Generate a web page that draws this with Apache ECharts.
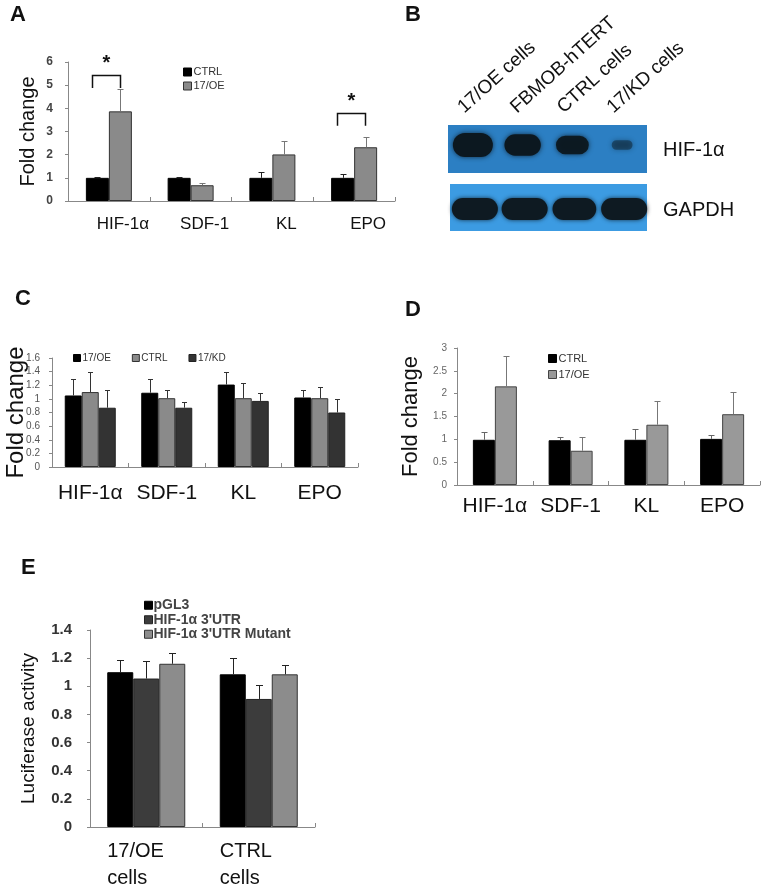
<!DOCTYPE html>
<html>
<head>
<meta charset="utf-8">
<script src="https://cdn.jsdelivr.net/npm/echarts@6/dist/echarts.min.js"></script>
<style>
  html, body { margin: 0; padding: 0; background: #fff; }
  #main { width: 764px; height: 888px; }
</style>
</head>
<body>
<div id="main"></div>
<script>
// ---- A: qPCR, CTRL vs 17/OE
var catsA = ['HIF-1α', 'SDF-1', 'KL', 'EPO'];
var ctrlA = [1, 1, 1, 1];
var ctrlAErr = [1.03, 1.03, 1.25, 1.18];
var oeA = [3.87, 0.68, 2.01, 2.32];
var oeAErr = [4.85, 0.78, 2.58, 2.76];
var sigA = [[0, 5.45, 4.88], [3, 3.8, 3.25]]; // category, bracket top, leg end
var ticksA = [0, 6, 1];

// ---- B: western blot
var laneNames = ['17/OE cells', 'FBMOB-hTERT', 'CTRL cells', '17/KD cells'];
var hifBand = [1.0, 0.85, 0.7, 0.2];
var gapdhBand = [1.0, 1.0, 0.95, 1.0];
var blotRows = ['HIF-1α', 'GAPDH'];

// ---- C: 17/OE, CTRL, 17/KD
var catsC = ['HIF-1α', 'SDF-1', 'KL', 'EPO'];
var oeC = [1.05, 1.09, 1.21, 1.02];
var oeCErr = [1.29, 1.29, 1.39, 1.125];
var ctrlC = [1.10, 1.01, 1.01, 1.01];
var ctrlCErr = [1.39, 1.135, 1.23, 1.18];
var kdC = [0.87, 0.87, 0.97, 0.80];
var kdCErr = [1.135, 0.96, 1.08, 1.00];
var ticksC = [0, 1.6, 0.2];

// ---- D: CTRL vs 17/OE
var catsD = ['HIF-1α', 'SDF-1', 'KL', 'EPO'];
var ctrlD = [0.99, 0.98, 0.99, 1.01];
var ctrlDErr = [1.15, 1.06, 1.23, 1.10];
var oeD = [2.16, 0.75, 1.32, 1.55];
var oeDErr = [2.82, 1.05, 1.85, 2.03];
var ticksD = [0, 3, 0.5];

// ---- E: luciferase
var catsE = ['17/OE\ncells', 'CTRL\ncells'];
var pgl3E = [1.10, 1.085];
var pgl3EErr = [1.19, 1.20];
var utrE = [1.055, 0.91];
var utrEErr = [1.18, 1.01];
var mutE = [1.16, 1.085];
var mutEErr = [1.24, 1.15];
var ticksE = [0, 1.4, 0.2];

var FONT = 'Liberation Sans, Arial, sans-serif';

function barSeries(name, data, g, color, border, width) {
  return {
    name: name, type: 'bar', xAxisIndex: g, yAxisIndex: g, data: data,
    barWidth: width, barGap: '0%', silent: true,
    itemStyle: { color: color, borderColor: border, borderWidth: 1 }
  };
}

// upper whisker only, like the original
function errSeries(means, tops, g, k, n, width, color, cap) {
  return {
    type: 'custom', xAxisIndex: g, yAxisIndex: g, silent: true, z: 3,
    data: means.map(function (m, i) { return [i, m, tops[i]]; }),
    renderItem: function (params, api) {
      var p0 = api.coord([api.value(0), api.value(1)]);
      var p1 = api.coord([api.value(0), api.value(2)]);
      var x = Math.round(p0[0] + (k - (n - 1) / 2) * width) + 0.5;
      var y1 = Math.round(p1[1]) + 0.5;
      return {
        type: 'group', children: [
          { type: 'line', shape: { x1: x, y1: p0[1], x2: x, y2: y1 }, style: { stroke: color, lineWidth: 1 } },
          { type: 'line', shape: { x1: x - cap, y1: y1, x2: x + cap, y2: y1 }, style: { stroke: color, lineWidth: 1 } }
        ]
      };
    }
  };
}

function xAx(g, cats, fs, margin, extra) {
  var ax = {
    type: 'category', gridIndex: g, data: cats,
    axisLine: { lineStyle: { color: '#888', width: 1 } },
    axisTick: { show: true, inside: true, length: 4, lineStyle: { color: '#888' } },
    axisLabel: { fontFamily: FONT, fontSize: fs, color: '#111', margin: margin, interval: 0 },
    splitLine: { show: false }
  };
  if (extra) Object.assign(ax.axisLabel, extra);
  return ax;
}

function yAx(g, t, name, nameFs, nameGap, lblFs, lblColor, lblMargin, bold) {
  return {
    type: 'value', gridIndex: g, min: t[0], max: t[1], interval: t[2],
    name: name, nameLocation: 'middle', nameRotate: 90, nameGap: nameGap,
    nameMoveOverlap: false,
    nameTextStyle: { fontFamily: FONT, fontSize: nameFs, color: '#111' },
    axisLine: { show: true, lineStyle: { color: '#888', width: 1 } },
    axisTick: { show: true, length: 3, lineStyle: { color: '#888' } },
    axisLabel: { fontFamily: FONT, fontSize: lblFs, color: lblColor, margin: lblMargin, fontWeight: bold ? 'bold' : 'normal' },
    splitLine: { show: false }
  };
}

function legendItem(name, color, border) {
  return { name: name, icon: 'rect', itemStyle: { color: color, borderColor: border, borderWidth: 1 } };
}

// ---- panel letters + blot graphics
var graphics = [];
var letters = [['A', 10, 4], ['B', 405, 4], ['C', 15, 288], ['D', 405, 299], ['E', 21, 557]];
letters.forEach(function (l) {
  graphics.push({ type: 'text', x: l[1], y: l[2],
    style: { text: l[0], font: 'bold 22px ' + FONT, fill: '#111', textVerticalAlign: 'top' } });
});
var blotX = 448, blotW = 199, laneW = blotW / 4;
graphics.push({ type: 'rect', shape: { x: blotX, y: 125, width: blotW, height: 48 }, style: { fill: '#2c7fc3' } });
graphics.push({ type: 'rect', shape: { x: blotX + 2, y: 184, width: blotW - 2, height: 47 }, style: { fill: '#3c9be2' } });
hifBand.forEach(function (v, i) {
  graphics.push({ type: 'rect',
    shape: { x: blotX + laneW * (i + 0.5) - (8 + 12 * v), y: 145 - (3 + 9 * v), width: 2 * (8 + 12 * v), height: 2 * (3 + 9 * v), r: 3 + 9 * v },
    style: { fill: 'rgba(12,24,32,' + Math.min(1, 0.25 + v) + ')', shadowBlur: 5, shadowColor: 'rgba(12,24,32,0.8)' } });
});
gapdhBand.forEach(function (v, i) {
  graphics.push({ type: 'rect',
    shape: { x: blotX + 2 + laneW * (i + 0.5) - 23 * v, y: 198, width: 46 * v, height: 22, r: 11 },
    style: { fill: '#0e1a22', shadowBlur: 4, shadowColor: 'rgba(12,24,32,0.8)' } });
});
blotRows.forEach(function (r, i) {
  graphics.push({ type: 'text', x: 663, y: i === 0 ? 150 : 210,
    style: { text: r, font: '20px ' + FONT, fill: '#111', textVerticalAlign: 'middle' } });
});
laneNames.forEach(function (n, i) {
  graphics.push({ type: 'text', x: blotX + 19 + laneW * i + (i === 1 ? 3 : 0), y: 117, rotation: 42 * Math.PI / 180,
    style: { text: n, font: '19px ' + FONT, fill: '#111', textAlign: 'left', textVerticalAlign: 'bottom' } });
});

var option = {
  animation: false,
  backgroundColor: '#fff',
  graphic: graphics,
  grid: [
    { left: 68, top: 62, width: 327, height: 139, outerBoundsMode: 'none' },
    { left: 52, top: 358, width: 306, height: 109, outerBoundsMode: 'none' },
    { left: 457, top: 348, width: 303, height: 137, outerBoundsMode: 'none' },
    { left: 90, top: 630, width: 225, height: 197, outerBoundsMode: 'none' }
  ],
  xAxis: [
    xAx(0, catsA, 17, 15, { padding: [0, 0, 0, 28] }),
    xAx(1, catsC, 21, 16),
    xAx(2, catsD, 21, 11),
    xAx(3, catsE, 20, 11, {
      lineHeight: 27,
      formatter: function (v) { return v.split('\n').map(function (s) { return '{a|' + s + '}'; }).join('\n'); },
      rich: { a: { width: 78, align: 'left', fontFamily: FONT, fontSize: 20, lineHeight: 27, color: '#111' } }
    })
  ],
  yAxis: [
    yAx(0, ticksA, 'Fold change', 20, 30, 12, '#444', 15, true),
    yAx(1, ticksC, 'Fold change', 24, 24, 10, '#555', 12, false),
    yAx(2, ticksD, 'Fold change', 22, 35, 10, '#666', 10, false),
    yAx(3, ticksE, 'Luciferase activity', 19, 52, 15, '#333', 18, true)
  ],
  legend: [
    { orient: 'vertical', left: 183, top: 66, padding: 0, itemWidth: 8, itemHeight: 8, itemGap: 2,
      textStyle: { fontFamily: FONT, fontSize: 11, color: '#333', lineHeight: 12, padding: [0, 0, 0, -3] },
      data: [legendItem('CTRL', '#000', '#000'), legendItem('17/OE', '#8a8a8a', '#333')] },
    { orient: 'horizontal', left: 73, top: 353, padding: 0, itemWidth: 7, itemHeight: 7, itemGap: 21,
      textStyle: { fontFamily: FONT, fontSize: 10, color: '#333', padding: [0, 0, 0, -3] },
      data: [legendItem('17/OE', '#000', '#000'), legendItem('CTRL', '#8a8a8a', '#333'), legendItem('17/KD', '#333', '#222')] },
    { orient: 'vertical', left: 548, top: 352, padding: 0, itemWidth: 8, itemHeight: 8, itemGap: 3,
      textStyle: { fontFamily: FONT, fontSize: 11, color: '#333', lineHeight: 13, padding: [0, 0, 0, -3] },
      data: [legendItem('CTRL', '#000', '#000'), legendItem('17/OE', '#999', '#444')] },
    { orient: 'vertical', left: 144, top: 598, padding: 0, itemWidth: 8, itemHeight: 8, itemGap: 0,
      textStyle: { fontFamily: FONT, fontSize: 14, fontWeight: 'bold', color: '#444', lineHeight: 14.5, padding: [0, 0, 0, -4] },
      data: [legendItem('pGL3', '#000', '#000'), legendItem("HIF-1α 3'UTR", '#3c3c3c', '#222'), legendItem("HIF-1α 3'UTR Mutant", '#8c8c8c', '#333')] }
  ],
  series: [
    // A
    barSeries('CTRL', ctrlA, 0, '#000', '#000', 23),
    barSeries('17/OE', oeA, 0, '#8a8a8a', '#333', 23),
    errSeries(ctrlA, ctrlAErr, 0, 0, 2, 23, '#222', 3),
    errSeries(oeA, oeAErr, 0, 1, 2, 23, '#777', 3),
    {
      type: 'custom', xAxisIndex: 0, yAxisIndex: 0, silent: true, z: 4, data: sigA,
      renderItem: function (params, api) {
        var t = api.coord([api.value(0), api.value(1)]);
        var b = api.coord([api.value(0), api.value(2)]);
        var x1 = Math.round(t[0] - 17) + 0.5, x2 = Math.round(t[0] + 11) + 0.5, y = Math.round(t[1]) + 0.5;
        return { type: 'group', children: [
          { type: 'polyline', shape: { points: [[x1, b[1]], [x1, y], [x2, y], [x2, b[1]]] }, style: { stroke: '#111', lineWidth: 1.5, fill: null } },
          { type: 'text', x: (x1 + x2) / 2, y: y - 22, style: { text: '*', font: 'bold 20px ' + FONT, fill: '#111', textAlign: 'center', textVerticalAlign: 'top' } }
        ] };
      }
    },
    // C
    barSeries('17/OE', oeC, 1, '#000', '#000', 17),
    barSeries('CTRL', ctrlC, 1, '#8a8a8a', '#333', 17),
    barSeries('17/KD', kdC, 1, '#333', '#222', 17),
    errSeries(oeC, oeCErr, 1, 0, 3, 17, '#333', 2.5),
    errSeries(ctrlC, ctrlCErr, 1, 1, 3, 17, '#333', 2.5),
    errSeries(kdC, kdCErr, 1, 2, 3, 17, '#333', 2.5),
    // D
    barSeries('CTRL', ctrlD, 2, '#000', '#000', 22),
    barSeries('17/OE', oeD, 2, '#999', '#444', 22),
    errSeries(ctrlD, ctrlDErr, 2, 0, 2, 22, '#666', 3),
    errSeries(oeD, oeDErr, 2, 1, 2, 22, '#777', 3),
    // E
    barSeries('pGL3', pgl3E, 3, '#000', '#000', 26),
    barSeries("HIF-1α 3'UTR", utrE, 3, '#3c3c3c', '#222', 26),
    barSeries("HIF-1α 3'UTR Mutant", mutE, 3, '#8c8c8c', '#333', 26),
    errSeries(pgl3E, pgl3EErr, 3, 0, 3, 26, '#222', 3.5),
    errSeries(utrE, utrEErr, 3, 1, 3, 26, '#222', 3.5),
    errSeries(mutE, mutEErr, 3, 2, 3, 26, '#222', 3.5)
  ]
};

var chart = echarts.init(document.getElementById('main'), null, { renderer: 'canvas' });
chart.setOption(option);
</script>
</body>
</html>
